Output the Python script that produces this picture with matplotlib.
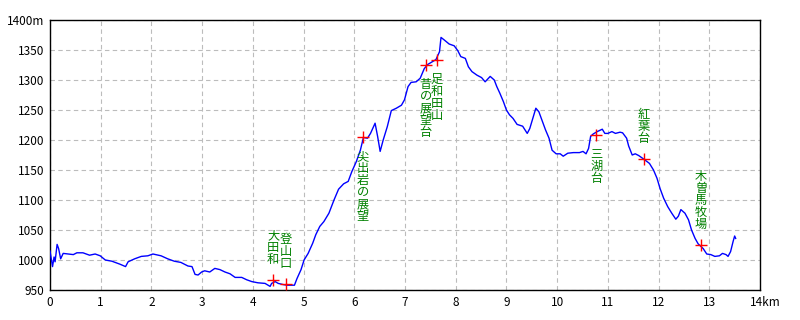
import numpy as np
import matplotlib
matplotlib.use('Agg')
import matplotlib.pyplot as plt
import matplotlib.transforms as mtransforms

plt.rcParams['font.family'] = ['Noto Sans CJK JP', 'DejaVu Sans']

# elevation profile (km, m)
dist = [0.00, 0.05, 0.08, 0.10, 0.14, 0.17, 0.21, 0.26, 0.36, 0.46, 0.53, 0.65, 0.78, 0.89, 0.99,
        1.09, 1.22, 1.38, 1.49, 1.54, 1.67, 1.80, 1.93, 2.03, 2.19, 2.32, 2.45, 2.58, 2.72, 2.80,
        2.86, 2.92, 2.99, 3.05, 3.15, 3.25, 3.35, 3.45, 3.55, 3.65, 3.78, 3.88, 3.98, 4.10, 4.24,
        4.34, 4.37, 4.44, 4.50, 4.60, 4.67, 4.77, 4.82, 4.87, 4.95, 5.01, 5.09, 5.18, 5.24, 5.32,
        5.40, 5.50, 5.60, 5.69, 5.79, 5.88, 5.95, 6.04, 6.12, 6.18, 6.26, 6.32, 6.41, 6.46, 6.51,
        6.57, 6.65, 6.73, 6.83, 6.93, 6.99, 7.06, 7.12, 7.22, 7.30, 7.38, 7.45, 7.55, 7.61, 7.68,
        7.71, 7.77, 7.87, 7.97, 8.04, 8.10, 8.19, 8.25, 8.32, 8.42, 8.51, 8.58, 8.68, 8.76, 8.81,
        8.87, 8.94, 9.00, 9.06, 9.13, 9.21, 9.32, 9.41, 9.46, 9.51, 9.58, 9.64, 9.71, 9.77, 9.84,
        9.90, 9.98, 10.06, 10.12, 10.21, 10.32, 10.44, 10.51, 10.57, 10.62, 10.66, 10.71, 10.79,
        10.89, 10.94, 11.00, 11.08, 11.15, 11.24, 11.29, 11.37, 11.41, 11.48, 11.54, 11.61, 11.71,
        11.82, 11.90, 11.97, 12.03, 12.10, 12.18, 12.26, 12.34, 12.39, 12.44, 12.52, 12.59, 12.65,
        12.72, 12.78, 12.88, 12.95, 13.03, 13.11, 13.20, 13.26, 13.33, 13.37, 13.42, 13.47, 13.50,
        13.52]
elev = [1015, 989, 1005, 997, 1026, 1019, 1002, 1011, 1010, 1009, 1012, 1012, 1008, 1010, 1007,
        1000, 998, 993, 989, 997, 1002, 1006, 1007, 1010, 1007, 1002, 998, 996, 990, 989,
        976, 975, 980, 982, 980, 986, 984, 980, 977, 971, 971, 967, 964, 962, 961,
        956, 961, 964, 961, 959, 958, 958, 958, 969, 984, 1000, 1011, 1028, 1042, 1056,
        1064, 1078, 1100, 1118, 1127, 1131, 1147, 1164, 1183, 1204, 1203, 1211, 1228, 1206, 1181,
        1200, 1222, 1249, 1253, 1258, 1267, 1289, 1296, 1297, 1303, 1319, 1326, 1331, 1334, 1347,
        1371, 1367, 1360, 1357, 1349, 1339, 1336, 1322, 1314, 1308, 1304, 1297, 1306, 1300, 1289,
        1278, 1264, 1250, 1242, 1236, 1226, 1223, 1211, 1219, 1233, 1253, 1247, 1231, 1217, 1203,
        1183, 1177, 1177, 1173, 1178, 1179, 1179, 1181, 1177, 1186, 1206, 1210, 1214,
        1218, 1211, 1211, 1214, 1211, 1213, 1212, 1203, 1190, 1175, 1177, 1174, 1168,
        1161, 1150, 1136, 1119, 1103, 1089, 1078, 1068, 1073, 1084, 1078, 1067, 1050,
        1036, 1027, 1019, 1010, 1009, 1006, 1007, 1011, 1009, 1006, 1014, 1031, 1040,
        1036]

# waypoints
wp_names = ['大田和', '登山口', '尖出岩の展望', '昔の展望台', '足和田山', '三湖台', '紅葉台', '木曽馬牧場']
wp_dist = [4.40, 4.65, 6.17, 7.41, 7.63, 10.77, 11.71, 12.84]
wp_elev = [967, 960, 1205, 1325, 1333, 1208, 1168, 1025]
label_up = [True, True, False, False, False, False, True, True]  # label above or below the cross

xticks = list(range(0, 15))
xlabels = [str(v) for v in xticks[:-1]] + ['14km']
yticks = list(range(950, 1401, 50))
ylabels = [str(v) for v in yticks[:-1]] + ['1400m']

fig = plt.figure(figsize=(8, 3.2), dpi=100)
ax = fig.add_axes([50/800, 30/320, 710/800, 270/320])

ax.plot(dist, elev, color='#0000ff', lw=1.0, zorder=3)
ax.plot(wp_dist, wp_elev, '+', color='#ff0000', ms=9, mew=1.0, zorder=4)

pitch = 12
for name, x, y, up in zip(wp_names, wp_dist, wp_elev, label_up):
    n = len(name)
    for k, ch in enumerate(name):
        if up:
            off = 14 + (n - 1 - k) * pitch
            va = 'bottom'
        else:
            off = -(13 + k * pitch)
            va = 'top'
        ax.annotate(ch, (x, y), xytext=(0, off), textcoords='offset pixels',
                    ha='center', va=va, fontsize=8.8, color='#008000', zorder=5)

ax.set_xlim(0, 14)
ax.set_ylim(950, 1400)
ax.set_xticks(xticks)
ax.set_xticklabels(xlabels)
ax.set_yticks(yticks)
ax.set_yticklabels(ylabels)
ax.tick_params(length=0, labelsize=8.5, pad=4)
lbl = ax.get_xticklabels()[-1]
lbl.set_transform(lbl.get_transform() + mtransforms.ScaledTranslation(5/100, 0, fig.dpi_scale_trans))

ax.grid(True, color='#bcbcbc', lw=0.8, linestyle=(0, (4, 3)))
for s in ax.spines.values():
    s.set_color('black')
    s.set_linewidth(1.0)

plt.savefig('out.png', dpi=100)
